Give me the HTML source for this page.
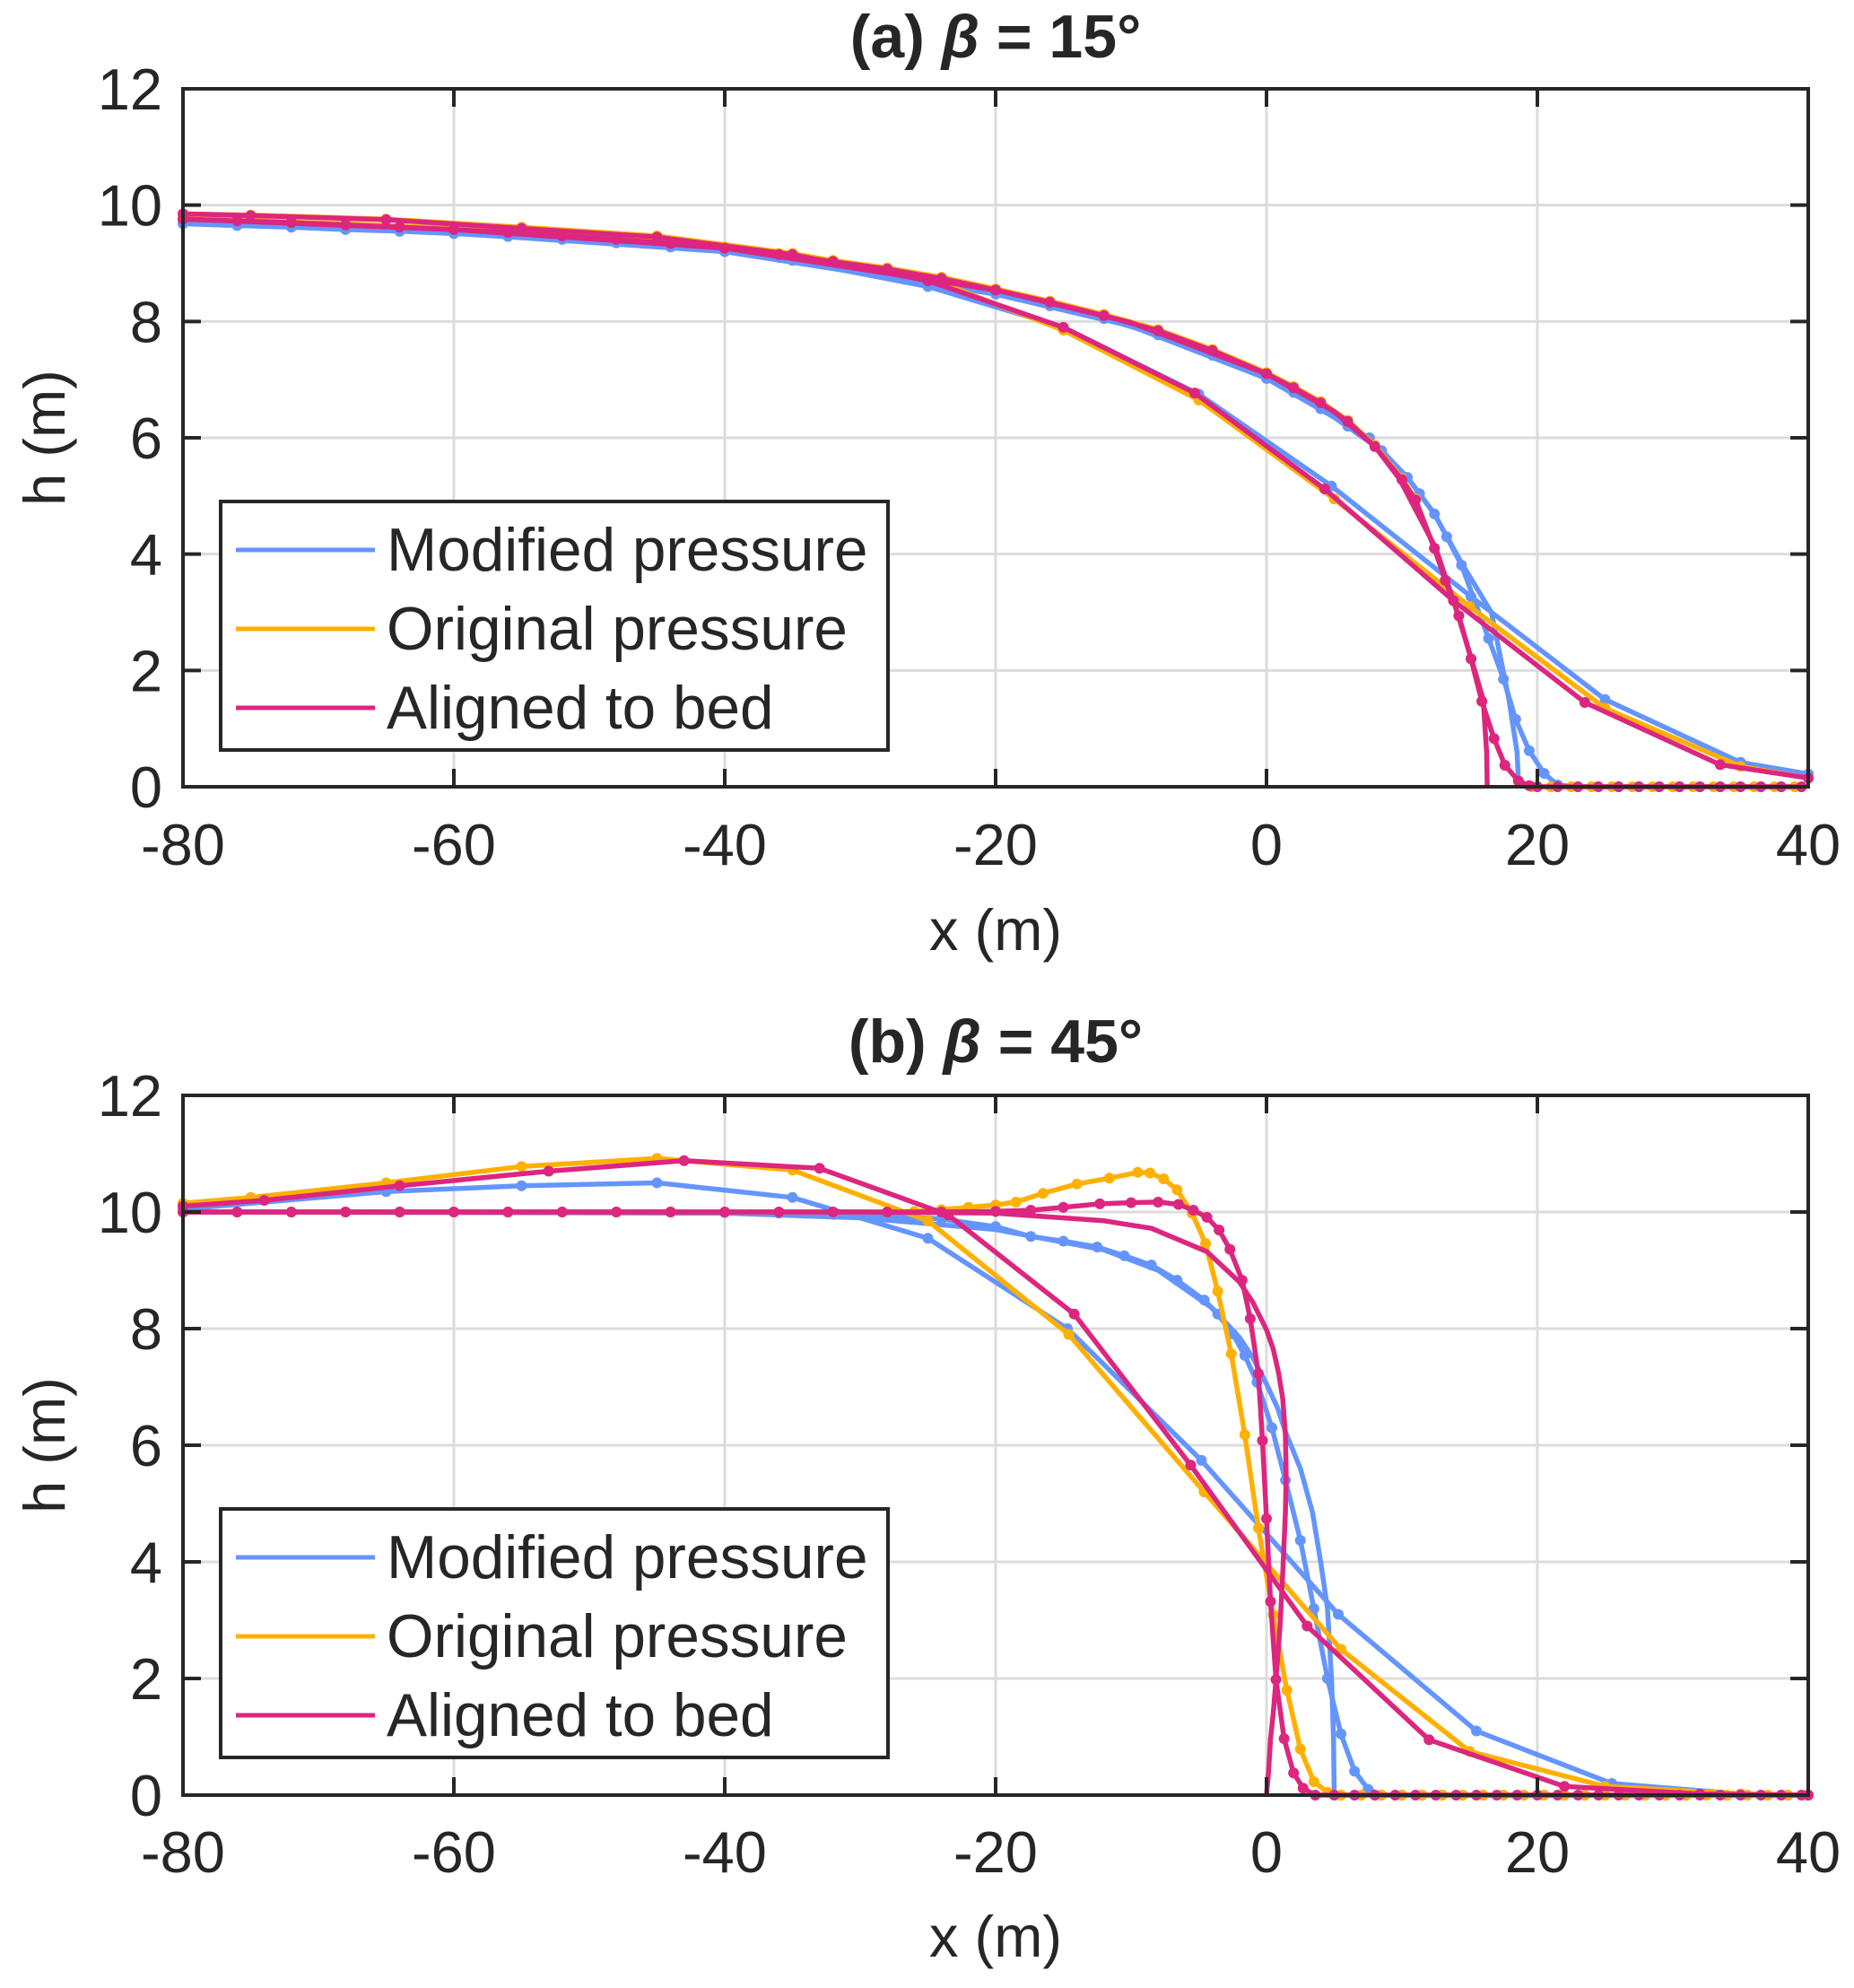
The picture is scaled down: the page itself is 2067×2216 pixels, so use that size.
<!DOCTYPE html>
<html><head><meta charset="utf-8"><style>
html,body{margin:0;padding:0;background:#fff}
svg{display:block}
text{font-family:"Liberation Sans",Arial,sans-serif;fill:#262626}
</style></head><body>
<svg id="c" width="2067" height="2216" viewBox="0 0 2067 2216"></svg>
<script>
// ---- data ----
const xTicks=[-80,-60,-40,-20,0,20,40];
const yTicks=[0,2,4,6,8,10,12];
const seriesNames=["Modified pressure","Original pressure","Aligned to bed"];
// Panel (a) beta = 15
const aBlueCoarseX=[-80,-75,-65,-55,-45,-35,-25,-15,-5,4.8,15.1,25,35,40];
const aBlueCoarseY=[9.75,9.72,9.65,9.55,9.4,9.05,8.6,7.9,6.75,5.17,3.27,1.5,0.42,0.22];
const aOrangeCoarseX=[-80,-75,-65,-55,-45,-35,-25,-15,-5,5,15,25,35,40];
const aOrangeCoarseY=[9.85,9.83,9.76,9.62,9.47,9.17,8.75,7.85,6.65,4.95,3.1,1.35,0.35,0.15];
const aMagCoarseX=[-80,-75,-65,-55,-45,-35,-25,-15,-5.3,4.3,13.8,23.5,33.5,40];
const aMagCoarseY=[9.85,9.82,9.75,9.6,9.45,9.15,8.7,7.9,6.77,5.12,3.2,1.45,0.38,0.15];
const aBlueFineX=[-80,-76,-72,-68,-64,-60,-56,-52,-48,-44,-40,-36,-32,-28,-24,-20,-16,-12,-8,-4,0,2,4,6,7.6,8.5,10.4,11.3,12.4,13.3,14.4,16.4,17.5,18.4,19.4,20.5,21.5,23,24.5,26,27.5,29,30.5,32,33.5,35,36.5,38,39.5];
const aBlueFineY=[9.68,9.65,9.62,9.58,9.55,9.51,9.46,9.41,9.35,9.28,9.2,9.1,8.98,8.85,8.68,8.47,8.27,8.05,7.77,7.42,7.02,6.78,6.5,6.2,6.0,5.78,5.32,5.04,4.69,4.3,3.81,2.55,1.85,1.16,0.62,0.23,0.03,0,0,0,0,0,0,0,0,0,0,0,0];
const aBlueExactX=[-80,-60,-40,-20,-10,0,5,8.5,10.4,12.4,14.4,16.6,17.9,18.5,18.6,18.6];
const aBlueExactY=[9.7,9.52,9.2,8.47,7.92,7.02,6.35,5.78,5.32,4.69,3.85,3.0,1.5,0.6,0.1,0];
const aOrangeFineX=[-80,-76,-72,-68,-64,-60,-56,-52,-48,-44,-40,-36,-32,-28,-24,-20,-16,-12,-8,-4,0,2,4,6,8,10,11,12.4,13.2,14.2,15.1,15.9,16.8,17.6,18.6,19.6,21,22.5,24,25.5,27,28.5,30,31.5,33,34.5,36,37.5,39];
const aOrangeFineY=[9.78,9.75,9.71,9.68,9.64,9.6,9.55,9.49,9.43,9.36,9.28,9.17,9.05,8.92,8.76,8.56,8.35,8.12,7.86,7.52,7.12,6.88,6.62,6.3,5.87,5.3,4.95,4.1,3.55,2.94,2.2,1.47,0.83,0.37,0.1,0,0,0,0,0,0,0,0,0,0,0,0,0,0];
const aMagFineX=[-80,-76,-72,-68,-64,-60,-56,-52,-48,-44,-40,-36,-32,-28,-24,-20,-16,-12,-8,-4,0,2,4,6,8,10,11,12.4,13.2,14.2,15.1,15.9,16.8,17.6,18.6,19.4,20,21.5,23,24.5,26,27.5,29,30.5,32,33.5,35,36.5,38,39.5];
const aMagFineY=[9.76,9.73,9.7,9.66,9.62,9.58,9.53,9.47,9.41,9.34,9.26,9.15,9.03,8.9,8.74,8.54,8.33,8.1,7.84,7.5,7.1,6.86,6.6,6.28,5.85,5.28,4.93,4.1,3.55,2.94,2.2,1.47,0.83,0.37,0.1,0.02,0,0,0,0,0,0,0,0,0,0,0,0,0,0];
const aMagExactX=[-80,-60,-40,-20,-10,0,5,8,9.8,12.5,13.8,15,16,16.25,16.3];
const aMagExactY=[9.76,9.58,9.26,8.54,7.98,7.1,6.45,5.85,5.3,4.1,3.2,2.3,1.5,0.6,0];
// Panel (b) beta = 45
const bBlueCoarseX=[-80,-65,-55,-45,-35,-25,-14.7,-4.8,5.3,15.5,25.5,35,40];
const bBlueCoarseY=[10.05,10.35,10.45,10.5,10.25,9.55,8.0,5.74,3.1,1.1,0.2,0.02,0];
const bOrangeCoarseX=[-80,-75,-65,-55,-45,-35,-25,-14.6,-4.6,5.5,15,25,35,40];
const bOrangeCoarseY=[10.15,10.25,10.5,10.78,10.92,10.72,9.85,7.9,5.2,2.5,0.75,0.15,0.02,0];
const bMagCoarseX=[-80,-74,-64,-53,-43,-33,-23.5,-14.2,-5.6,3.0,12,22,32,40];
const bMagCoarseY=[10.1,10.2,10.45,10.7,10.88,10.75,9.95,8.25,5.66,2.9,0.95,0.15,0.02,0];
const bBlueFineX=[-80,-76,-72,-68,-64,-60,-56,-52,-48,-44,-40,-36,-32,-28,-24,-20,-17.4,-15,-12.5,-10.5,-8.5,-6.6,-4.6,-3.6,-2.5,-1.6,-0.7,0.4,1.4,2.5,3.5,4.5,5.5,6.5,7.5,8.5,10,11.5,13,14.5,16,17.5,19,20.5,22,23.5,25,26.5,28,29.5,31,32.5,34,35.5,37,38.5,40];
const bBlueFineY=[10,10,10,10,10,10,10,10,10,10,9.99,9.98,9.96,9.93,9.88,9.75,9.58,9.5,9.4,9.25,9.09,8.83,8.49,8.25,7.91,7.54,7.08,6.3,5.4,4.37,3.2,2.0,1.05,0.41,0.1,0,0,0,0,0,0,0,0,0,0,0,0,0,0,0,0,0,0,0,0,0,0];
const bBlueExactX=[-80,-40,-30,-20,-12,-8,-4,-2,-1,0,0.8,1.4,2.5,3.4,4.0,4.5,4.8,4.95,5.0];
const bBlueExactY=[10,9.98,9.9,9.7,9.35,9.0,8.35,7.85,7.5,7.05,6.65,6.23,5.6,4.85,4.0,3.2,2.0,1.0,0];
const bOrangeFineX=[-80,-76,-72,-68,-64,-60,-56,-52,-48,-44,-40,-36,-32,-28,-26,-24,-22,-20,-18.5,-16.5,-14,-11.6,-9.5,-8.6,-7.6,-6.6,-5.5,-4.5,-3.6,-2.6,-1.6,-0.6,0.5,1.5,2.5,3.5,4.5,5.5,7,8.5,10,11.5,13,14.5,16,17.5,19,20.5,22,23.5,25,26.5,28,29.5,31,32.5,34,35.5,37,38.5,40];
const bOrangeFineY=[10,10,10,10,10,10,10,10,10,10,10,10,10,10,10.01,10.04,10.08,10.12,10.17,10.32,10.48,10.58,10.68,10.67,10.57,10.38,9.98,9.46,8.64,7.57,6.18,4.58,3.09,1.8,0.79,0.23,0.05,0,0,0,0,0,0,0,0,0,0,0,0,0,0,0,0,0,0,0,0,0,0,0,0];
const bMagFineX=[-80,-76,-72,-68,-64,-60,-56,-52,-48,-44,-40,-36,-32,-28,-24,-20,-17.4,-15,-12.3,-10,-8,-6.5,-5.4,-4.4,-3.5,-2.7,-1.8,-1.2,-0.6,-0.3,0,0.3,0.7,1.3,2.0,2.7,3.6,5,6.5,8,9.5,11,12.5,14,15.5,17,18.5,20,21.5,23,24.5,26,27.5,29,30.5,32,33.5,35,36.5,38,39.5];
const bMagFineY=[10,10,10,10,10,10,10,10,10,10,10,10,10,10,10,10.01,10.03,10.08,10.14,10.16,10.17,10.13,10.03,9.91,9.69,9.36,8.83,8.17,7.23,6.08,4.74,3.32,1.98,0.97,0.38,0.12,0,0,0,0,0,0,0,0,0,0,0,0,0,0,0,0,0,0,0,0,0,0,0,0,0];
const bMagExactX=[-80,-30,-20,-12,-8.5,-4.4,-2,-1,0,0.5,0.9,1.2,1.4,1.45,1.4,1.2,1.0,0.7,0.5,0.3,0.15,0];
const bMagExactY=[10,10,9.98,9.85,9.72,9.32,8.8,8.45,7.98,7.65,7.23,6.8,6.18,5.5,4.85,3.8,2.9,1.98,1.4,0.97,0.4,0];

// ---- layout ----
const NS="http://www.w3.org/2000/svg";
const svg=document.getElementById('c');
const COL={blue:"#6495fe",orange:"#ffb000",mag:"#dc267f"};
function mk(tag,attrs,parent){const e=document.createElementNS(NS,tag);for(const k in attrs)e.setAttribute(k,attrs[k]);(parent||svg).appendChild(e);return e;}
const L=204,R=2016;
function xs(x){return L+(x+80)/120*(R-L);}

function panel(top,bottom,title,titleY,xlabY,tickY,series,legTop,id){
  const g=mk('g',{});
  
  
  const ys=y=>bottom-y/12*(bottom-top);
  xTicks.forEach(t=>{const l=mk('line',{x1:xs(t),x2:xs(t),y1:top,y2:bottom,stroke:"#dcdcdc","stroke-width":3},g);
    });
  yTicks.forEach(t=>{const l=mk('line',{x1:L,x2:R,y1:ys(t),y2:ys(t),stroke:"#dcdcdc","stroke-width":3},g);
    });
  series.forEach(s=>{
    const pts=s.x.map((v,i)=>xs(v).toFixed(1)+','+ys(s.y[i]).toFixed(1)).join(' ');
    const p=mk('polyline',{points:pts,fill:"none",stroke:s.c,"stroke-width":5.5,"stroke-linejoin":"round"},g);
    
    
    if(s.m){s.x.forEach((v,i)=>{const c=mk('circle',{cx:xs(v),cy:ys(s.y[i]),r:6,fill:s.c},g);
      
      });}
  });
  const b=mk('rect',{x:L,y:top,width:R-L,height:bottom-top,fill:"none",stroke:"#262626","stroke-width":4},g);
  
  xTicks.forEach(t=>{
    mk('line',{x1:xs(t),x2:xs(t),y1:bottom,y2:bottom-20,stroke:"#262626","stroke-width":4},g);
    mk('line',{x1:xs(t),x2:xs(t),y1:top,y2:top+20,stroke:"#262626","stroke-width":4},g);
    const tx=mk('text',{x:xs(t),y:tickY,"font-size":65,"text-anchor":"middle"},g);tx.textContent=t;
    
  });
  yTicks.forEach(t=>{
    mk('line',{x1:L,x2:L+20,y1:ys(t),y2:ys(t),stroke:"#262626","stroke-width":4},g);
    mk('line',{x1:R,x2:R-20,y1:ys(t),y2:ys(t),stroke:"#262626","stroke-width":4},g);
    const tx=mk('text',{x:181,y:ys(t)+23,"font-size":65,"text-anchor":"end"},g);tx.textContent=t;
    
  });
  const ti=mk('text',{x:(L+R)/2,y:titleY,"font-size":68,"font-weight":"bold","text-anchor":"middle"},g);
  ti.innerHTML=title;
  
  const xl=mk('text',{x:(L+R)/2,y:xlabY,"font-size":65,"text-anchor":"middle"},g);xl.textContent="x (m)";
  
  const cy=(top+bottom)/2;
  const yl=mk('text',{x:0,y:0,"font-size":65,"text-anchor":"middle",transform:`translate(72,${cy}) rotate(-90)`},g);yl.textContent="h (m)";
  
  const lg=mk('g',{},g);
  
  mk('rect',{x:246,y:legTop,width:744,height:277,fill:"#fff",stroke:"#262626","stroke-width":4},lg);
  const cols=[COL.blue,COL.orange,COL.mag];
  seriesNames.forEach((nm,i)=>{
    const yy=legTop+54+i*88;
    const ln=mk('line',{x1:263,x2:418,y1:yy,y2:yy,stroke:cols[i],"stroke-width":5},lg);
    
    const t=mk('text',{x:431,y:yy+23,"font-size":67.5},lg);t.textContent=nm;
    
  });
}
panel(99,877,'(a) <tspan font-style="italic">β</tspan> = 15°',64,1059,964,[
 {x:aBlueExactX,y:aBlueExactY,c:COL.blue,n:'a-modified-exact'},
 {x:aBlueCoarseX,y:aBlueCoarseY,c:COL.blue,m:1,n:'a-modified-coarse'},
 {x:aBlueFineX,y:aBlueFineY,c:COL.blue,m:1,n:'a-modified-fine'},
 {x:aOrangeCoarseX,y:aOrangeCoarseY,c:COL.orange,m:1,n:'a-original-coarse'},
 {x:aOrangeFineX,y:aOrangeFineY,c:COL.orange,m:1,n:'a-original-fine'},
 {x:aMagExactX,y:aMagExactY,c:COL.mag,n:'a-aligned-exact'},
 {x:aMagCoarseX,y:aMagCoarseY,c:COL.mag,m:1,n:'a-aligned-coarse'},
 {x:aMagFineX,y:aMagFineY,c:COL.mag,m:1,n:'a-aligned-fine'}
],559,'a');
panel(1221,2001,'(b) <tspan font-style="italic">β</tspan> = 45°',1184,2181,2087,[
 {x:bBlueExactX,y:bBlueExactY,c:COL.blue,n:'b-modified-exact'},
 {x:bBlueCoarseX,y:bBlueCoarseY,c:COL.blue,m:1,n:'b-modified-coarse'},
 {x:bBlueFineX,y:bBlueFineY,c:COL.blue,m:1,n:'b-modified-fine'},
 {x:bOrangeCoarseX,y:bOrangeCoarseY,c:COL.orange,m:1,n:'b-original-coarse'},
 {x:bOrangeFineX,y:bOrangeFineY,c:COL.orange,m:1,n:'b-original-fine'},
 {x:bMagExactX,y:bMagExactY,c:COL.mag,n:'b-aligned-exact'},
 {x:bMagCoarseX,y:bMagCoarseY,c:COL.mag,m:1,n:'b-aligned-coarse'},
 {x:bMagFineX,y:bMagFineY,c:COL.mag,m:1,n:'b-aligned-fine'}
],1682,'b');
</script>
</body></html>
